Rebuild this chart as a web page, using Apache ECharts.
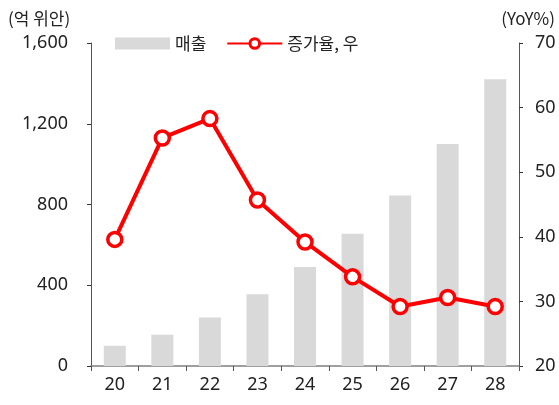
<!DOCTYPE html>
<html>
<head>
<meta charset="utf-8">
<script src="https://cdn.jsdelivr.net/npm/echarts@6/dist/echarts.min.js"></script>
</head>
<body style="margin:0">
<div id="main" style="width:559px;height:405px;"></div>
<script type="text/javascript">
// 데이터
var years = ['20', '21', '22', '23', '24', '25', '26', '27', '28'];
var sales = [100, 155, 240, 355, 490, 655, 845, 1100, 1420];
var growth = [39.6, 55.3, 58.3, 45.7, 39.2, 33.8, 29.2, 30.6, 29.2];

var font = '"Noto Sans CJK KR", "Noto Sans", sans-serif';
var numFont = '"Noto Sans", "Open Sans", sans-serif';
var myChart = echarts.init(document.getElementById('main'));

var option = {
    backgroundColor: '#fff',
    animation: false,
    textStyle: { fontFamily: font },
    graphic: [
        { type: 'text', left: 8, top: 10, style: { text: '(억 위안)', font: '17px ' + font, fill: '#222' } },
        { type: 'text', right: 4, top: 10, style: { text: '(YoY%)', font: '17px ' + font, fill: '#222' } }
    ],
    legend: {
        left: 110,
        top: 30,
        itemWidth: 55,
        itemHeight: 12,
        itemGap: 20,
        textStyle: { fontSize: 17, color: '#222', fontFamily: font },
        data: [
            { name: '매출', icon: 'rect' },
            { name: '증가율, 우', itemStyle: { borderWidth: 3 } }
        ]
    },
    grid: { left: 91, right: 40, top: 43, bottom: 39 },
    xAxis: {
        type: 'category',
        data: years,
        axisLine: { lineStyle: { color: '#808080', width: 1.5 } },
        axisTick: { show: true, length: 5, lineStyle: { color: '#555' } },
        axisLabel: { color: '#222', fontSize: 18, margin: 10, fontFamily: numFont }
    },
    yAxis: [
        {
            type: 'value',
            min: 0, max: 1600, interval: 400,
            splitLine: { show: false },
            axisLine: { show: true, lineStyle: { color: '#555' } },
            axisTick: { show: true, length: 4, lineStyle: { color: '#333' } },
            axisLabel: {
                color: '#222', fontSize: 18, margin: 23, fontFamily: numFont,
                formatter: function (v) { return v.toLocaleString('en-US'); }
            }
        },
        {
            type: 'value',
            min: 20, max: 70, interval: 10,
            splitLine: { show: false },
            axisLine: { show: true, lineStyle: { color: '#555' } },
            axisTick: { show: true, length: 4, lineStyle: { color: '#333' } },
            axisLabel: { color: '#222', fontSize: 18, margin: 16, fontFamily: numFont }
        }
    ],
    series: [
        {
            name: '매출',
            type: 'bar',
            data: sales,
            barWidth: 22,
            itemStyle: { color: '#d9d9d9' }
        },
        {
            name: '증가율, 우',
            type: 'line',
            yAxisIndex: 1,
            data: growth,
            symbol: 'circle',
            symbolSize: 14,
            lineStyle: { color: '#ff0000', width: 4 },
            itemStyle: { color: '#fff', borderColor: '#ff0000', borderWidth: 3.5 }
        }
    ]
};

myChart.setOption(option);
</script>
</body>
</html>
